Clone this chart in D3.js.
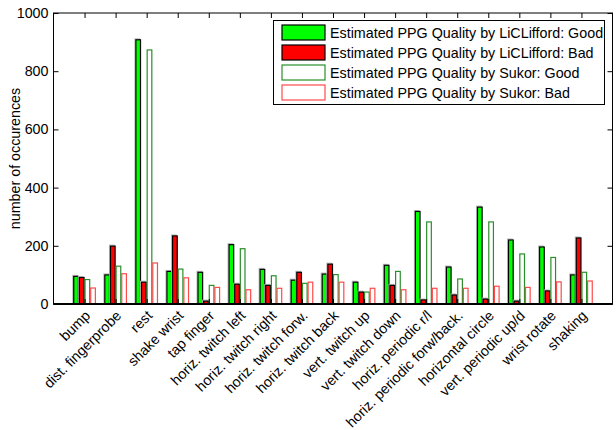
<!DOCTYPE html>
<html><head><meta charset="utf-8">
<script src="https://cdn.jsdelivr.net/npm/d3@7"></script>
<style>body{margin:0;background:#fff}svg{display:block}text{font-family:"Liberation Sans",Arial,sans-serif;fill:#000}</style>
</head><body>
<svg id="c" width="616" height="430"></svg>
<script>
const categories = ["bump","dist. fingerprobe","rest","shake wrist","tap finger","horiz. twitch left","horiz. twitch right","horiz. twitch forw.","horiz. twitch back","vert. twitch up","vert. twitch down","horiz. periodic r/l","horiz. periodic forw/back.","horizontal circle","vert. periodic up/d","wrist rotate","shaking"];
const seriesNames = ["Estimated PPG Quality by LiCLifford: Good","Estimated PPG Quality by LiCLifford: Bad","Estimated PPG Quality by Sukor: Good","Estimated PPG Quality by Sukor: Bad"];
const licGood = [95,100,908,112,109,204,119,82,103,75,133,318,127,333,220,196,100];
const licBad = [91,199,75,234,10,68,64,109,137,41,64,14,31,17,10,45,227];
const sukGood = [84,130,873,120,64,190,97,71,101,41,112,282,86,282,172,160,109];
const sukBad = [55,104,141,90,57,49,54,75,75,54,49,54,54,61,57,76,79];
const yTicks = [0,200,400,600,800,1000];

const series = [licGood, licBad, sukGood, sukBad];
const styles = [
  {fill:"#00ff00", stroke:"#000", shadow:true},
  {fill:"#ff0000", stroke:"#000", shadow:true},
  {fill:"#fff", stroke:"#2a8f2a", shadow:false},
  {fill:"#fff", stroke:"#ff4a4a", shadow:false}
];
const FS = 14.3;
const svg = d3.select("#c");
const L = 53.5, R = 612.5, T = 13, B = 304;
const x = d3.scaleLinear().domain([0, categories.length + 1]).range([L, R]);
const y = d3.scaleLinear().domain([0, 1000]).range([B, T]);
const slot = 0.182, bw = 0.15;

const g = svg.append("g");
series.forEach((vals, s) => {
  const st = styles[s];
  const off = (s - 1.5) * slot;
  const bx = i => x(i + 1 + off - bw/2);
  const w = x(bw) - x(0);
  if (st.shadow) {
    g.selectAll(null).data(vals).enter().append("rect")
      .attr("x", (d,i) => bx(i) - 1).attr("y", d => y(d) - 1)
      .attr("width", w).attr("height", d => B - y(d) + 1)
      .attr("fill", "none").attr("stroke", "#b8b8b8").attr("stroke-width", 1);
  }
  g.selectAll(null).data(vals).enter().append("rect")
    .attr("x", (d,i) => bx(i)).attr("y", d => y(d))
    .attr("width", w).attr("height", d => B - y(d))
    .attr("fill", st.fill).attr("stroke", st.stroke).attr("stroke-width", 1.2);
});

// frame
svg.append("rect").attr("x", L).attr("y", T).attr("width", R - L).attr("height", B - T)
  .attr("fill", "none").attr("stroke", "#000").attr("stroke-width", 1);
svg.append("line").attr("x1", L).attr("x2", R).attr("y1", B).attr("y2", B)
  .attr("stroke", "#000").attr("stroke-width", 2);

// y axis
const yAxisL = d3.axisLeft(y).tickValues(yTicks).tickSize(-5).tickPadding(5).tickFormat(d3.format("d"));
const ya = svg.append("g").attr("transform", `translate(${L},0)`).call(yAxisL);
ya.select(".domain").remove();
ya.selectAll("text").attr("font-size", FS).style("font-family", '"Liberation Sans",Arial,sans-serif');
const yAxisR = d3.axisRight(y).tickValues(yTicks).tickSize(-5).tickFormat("");
const yr = svg.append("g").attr("transform", `translate(${R},0)`).call(yAxisR);
yr.select(".domain").remove();

// x ticks top and bottom
const idx = d3.range(1, categories.length + 1);
const xAxisT = d3.axisTop(x).tickValues(idx).tickSize(-5).tickFormat("");
const xt = svg.append("g").attr("transform", `translate(0,${T})`).call(xAxisT);
xt.select(".domain").remove();
const xAxisB = d3.axisBottom(x).tickValues(idx).tickSize(-5).tickFormat("");
const xb = svg.append("g").attr("transform", `translate(0,${B})`).call(xAxisB);
xb.select(".domain").remove();

// x labels
svg.append("g").selectAll("text").data(categories).enter().append("text")
  .attr("transform", (d,i) => `translate(${x(i+1) + 3},${B + 9}) rotate(-45)`)
  .attr("text-anchor", "end").attr("dy", "0.35em").attr("font-size", FS)
  .text(d => d);

// y label
svg.append("text").attr("transform", `translate(15,${(T+B)/2}) rotate(-90)`)
  .attr("text-anchor", "middle").attr("dy", "0.35em").attr("font-size", 14.3)
  .text("number of occurences");

// legend
const lg = svg.append("g");
lg.append("rect").attr("x", 273.5).attr("y", 20.5).attr("width", 331).attr("height", 84)
  .attr("fill", "#fff").attr("stroke", "#000").attr("stroke-width", 1);
seriesNames.forEach((n, s) => {
  const cy = 32.5 + s * 20;
  const st = styles[s];
  lg.append("rect").attr("x", 282).attr("y", cy - 7.5).attr("width", 43).attr("height", 15)
    .attr("fill", st.fill).attr("stroke", st.stroke).attr("stroke-width", 1.2);
  lg.append("text").attr("x", 330).attr("y", cy).attr("dy", "0.35em").attr("font-size", FS).text(n);
});
</script>
</body></html>
